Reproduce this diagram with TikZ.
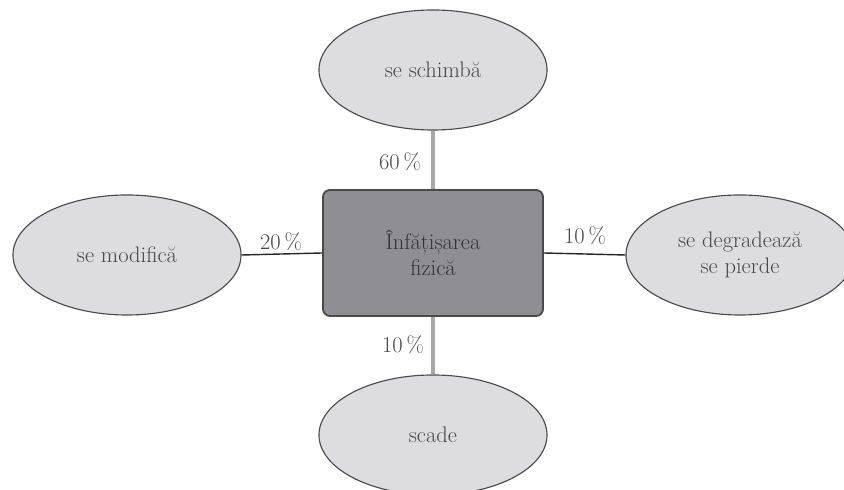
\documentclass[tikz,border=0pt]{standalone}
\usepackage{tikz}
\usetikzlibrary{shapes.geometric, positioning}
\definecolor{ovalfill}{HTML}{DDDDE0}
\definecolor{ovalline}{HTML}{4A4A4A}
\definecolor{boxfill}{HTML}{8F8F93}
\definecolor{boxline}{HTML}{4A4A4A}
\definecolor{textgray}{HTML}{474747}
\definecolor{linkgray}{HTML}{A8A8A8}
\tikzstyle{oval}=[shape=ellipse, minimum width=5.7cm, minimum height=3cm, draw=ovalline, fill=ovalfill, line width=0.8pt, text=textgray, align=center, inner sep=0pt]
\tikzstyle{centrebox}=[shape=rectangle, rounded corners=5pt, minimum width=5.5cm, minimum height=3.15cm, draw=boxline, fill=boxfill, line width=1.3pt, text=black!80, align=center]
\tikzstyle{pct}=[text=textgray, inner sep=0pt]
\tikzstyle{greylink}=[draw=linkgray, line width=2.2pt]
\tikzstyle{blacklink}=[draw=black!85, line width=1pt]

\begin{document}
\begin{tikzpicture}[x=0.025cm, y=-0.025cm, font=\fontsize{16}{19}\selectfont]
\useasboundingbox (0,0) rectangle (844,490);
\node[centrebox] (aspect) at (433,253) {Înfățișarea\\fizică};
%ovals round the box
\node[oval] (up) at (433,70) {se schimbă};
\node[oval] (left) at (127,255) {se modifică};
\node[oval] (right) at (740,255) {se degradează\\se pierde};
\node[oval] (down) at (433,435) {scade};
%links
\draw[greylink] (aspect.north) -- (up.south);
\draw[greylink] (aspect.south) -- (down.north);
\draw[blacklink] (left.east) -- (aspect.west);
\draw[blacklink] (aspect.east) -- (right.west);
%percentages
\node[pct] (pup) at (400,162) {60\,\%};
\node[pct] (pleft) at (281,242) {20\,\%};
\node[pct] (pright) at (585,236) {10\,\%};
\node[pct] (pdown) at (403,345) {10\,\%};
\end{tikzpicture}
\end{document}
